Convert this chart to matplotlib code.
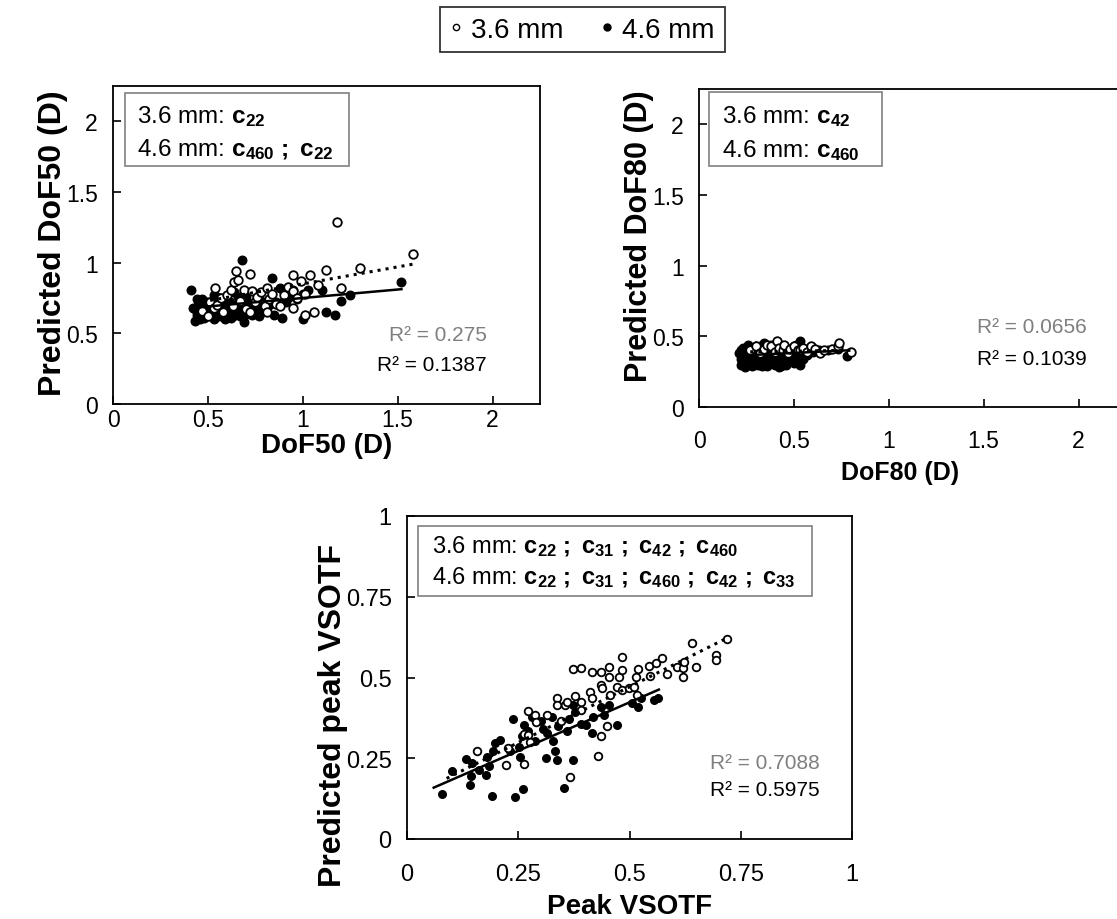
import numpy as np
import matplotlib
matplotlib.use('Agg')
from matplotlib import pyplot as plt
from matplotlib.lines import Line2D
from matplotlib.patches import Rectangle

plt.rcParams['font.family'] = ['Liberation Sans', 'DejaVu Sans']
plt.rcParams['mathtext.fontset'] = 'custom'
plt.rcParams['mathtext.rm'] = 'Liberation Sans'
plt.rcParams['mathtext.bf'] = 'Liberation Sans:bold'
plt.rcParams['mathtext.it'] = 'Liberation Sans:italic'

# ---- DoF50 panel
dof50_36_x = [0.47,0.50,0.51,0.53,0.54,0.55,0.57,0.58,0.60,0.62,0.63,0.64,0.65,0.66,0.67,0.69,0.70,0.72,0.72,0.73,
              0.75,0.76,0.78,0.80,0.81,0.81,0.82,0.84,0.86,0.88,0.90,0.92,0.95,0.95,0.95,0.97,0.99,1.01,1.01,1.04,
              1.06,1.08,1.12,1.18,1.20,1.30,1.58]
dof50_36_y = [0.66,0.62,0.72,0.68,0.82,0.70,0.75,0.65,0.77,0.81,0.69,0.86,0.94,0.88,0.73,0.81,0.67,0.92,0.65,0.80,
              0.72,0.76,0.79,0.69,0.82,0.65,0.74,0.78,0.71,0.69,0.77,0.83,0.91,0.68,0.80,0.75,0.87,0.63,0.78,0.91,
              0.65,0.84,0.95,1.29,0.82,0.96,1.06]
dof50_46_x = [0.41,0.43,0.43,0.44,0.45,0.46,0.47,0.48,0.48,0.49,0.50,0.51,0.52,0.53,0.54,0.55,0.55,0.56,0.57,0.58,
              0.59,0.60,0.60,0.61,0.62,0.63,0.64,0.65,0.66,0.67,0.68,0.68,0.69,0.70,0.71,0.72,0.73,0.74,0.76,0.78,
              0.80,0.82,0.84,0.85,0.86,0.88,0.89,0.90,0.91,0.93,0.95,0.97,1.00,1.00,1.03,1.10,1.12,1.17,1.20,1.25,
              1.52,0.42,0.44,0.46,0.47,0.49,0.50,0.52,0.53,0.56,0.58,0.59,0.61,0.62,0.64,0.66,0.67,0.70,0.75,0.77,
              0.79]
dof50_46_y = [0.81,0.59,0.67,0.63,0.70,0.65,0.74,0.61,0.68,0.72,0.63,0.69,0.66,0.60,0.71,0.66,0.76,0.62,0.75,0.68,
              0.60,0.70,0.65,0.73,0.70,0.62,0.79,0.67,0.64,0.72,1.02,0.66,0.58,0.75,0.69,0.68,0.63,0.71,0.66,0.73,
              0.66,0.70,0.89,0.63,0.72,0.82,0.61,0.79,0.72,0.76,0.81,0.74,0.60,0.78,0.81,0.81,0.65,0.63,0.73,0.77,
              0.86,0.68,0.74,0.60,0.66,0.62,0.72,0.64,0.77,0.70,0.64,0.73,0.67,0.61,0.70,0.76,0.62,0.64,0.69,0.62,
              0.70]

# ---- DoF80 panel
dof80_36_x = [0.27,0.30,0.32,0.34,0.36,0.38,0.40,0.41,0.42,0.44,0.45,0.47,0.48,0.50,0.52,0.53,0.55,0.57,0.59,0.61,
              0.64,0.66,0.70,0.73,0.74,0.80]
dof80_36_y = [0.40,0.43,0.38,0.41,0.44,0.43,0.39,0.47,0.42,0.40,0.44,0.38,0.41,0.43,0.40,0.40,0.42,0.39,0.43,0.41,
              0.38,0.40,0.41,0.43,0.45,0.39]
dof80_46_x = [0.21,0.22,0.22,0.23,0.24,0.25,0.25,0.26,0.27,0.28,0.28,0.29,0.30,0.30,0.31,0.32,0.32,0.33,0.34,0.34,
              0.35,0.36,0.36,0.37,0.38,0.39,0.40,0.41,0.42,0.43,0.44,0.45,0.47,0.49,0.50,0.51,0.52,0.53,0.53,0.55,
              0.57,0.60,0.63,0.68,0.73,0.78,0.22,0.23,0.24,0.26,0.27,0.28,0.29,0.30,0.31,0.33,0.35,0.37,0.38,0.40,
              0.42,0.44,0.46,0.48,0.50,0.52]
dof80_46_y = [0.38,0.40,0.34,0.31,0.36,0.30,0.42,0.35,0.32,0.38,0.29,0.41,0.34,0.37,0.30,0.43,0.33,0.36,0.45,0.31,
              0.39,0.34,0.29,0.41,0.33,0.37,0.30,0.42,0.35,0.29,0.38,0.33,0.40,0.36,0.31,0.44,0.35,0.47,0.30,0.34,
              0.37,0.39,0.40,0.40,0.41,0.36,0.30,0.42,0.28,0.44,0.39,0.34,0.30,0.43,0.39,0.29,0.42,0.31,0.44,0.36,
              0.28,0.42,0.30,0.34,0.39,0.44]

# ---- Peak VSOTF panel
vs_36_x = [0.157,0.223,0.227,0.262,0.262,0.273,0.273,0.277,0.288,0.29,0.315,0.337,0.337,0.345,0.356,0.360,0.367,0.373,0.378,0.39,
           0.39,0.39,0.412,0.416,0.416,0.43,0.435,0.435,0.435,0.438,0.45,0.453,0.455,0.457,0.471,0.476,0.484,0.484,0.484,0.498,
           0.509,0.514,0.516,0.518,0.543,0.547,0.559,0.574,0.585,0.607,0.621,0.621,0.622,0.641,0.649,0.694,0.694,0.72]
vs_36_y = [0.272,0.229,0.281,0.324,0.231,0.322,0.396,0.299,0.383,0.361,0.384,0.435,0.414,0.365,0.414,0.425,0.191,0.525,0.444,0.528,
           0.425,0.399,0.456,0.518,0.435,0.258,0.518,0.476,0.318,0.466,0.349,0.534,0.503,0.445,0.472,0.503,0.562,0.522,0.461,0.466,
           0.472,0.503,0.445,0.525,0.537,0.506,0.546,0.559,0.512,0.534,0.528,0.503,0.549,0.608,0.534,0.569,0.553,0.618]
vs_46_x = [0.078,0.10,0.133,0.142,0.143,0.146,0.162,0.178,0.18,0.185,0.19,0.193,0.198,0.21,0.232,0.239,0.243,0.251,0.255,0.258,
           0.261,0.262,0.273,0.281,0.288,0.30,0.306,0.312,0.315,0.326,0.329,0.333,0.336,0.340,0.352,0.360,0.363,0.373,0.374,0.378,
           0.39,0.402,0.416,0.419,0.435,0.442,0.453,0.472,0.506,0.52,0.525,0.554,0.565]
vs_46_y = [0.139,0.21,0.248,0.167,0.194,0.234,0.214,0.198,0.253,0.225,0.132,0.272,0.296,0.306,0.271,0.370,0.129,0.286,0.255,0.318,
           0.155,0.353,0.333,0.379,0.303,0.364,0.342,0.250,0.327,0.379,0.302,0.271,0.245,0.349,0.157,0.333,0.371,0.245,0.414,0.394,
           0.357,0.353,0.327,0.379,0.410,0.384,0.414,0.352,0.420,0.410,0.435,0.430,0.435]

# linear trend lines (intercept, slope, x from, x to) and R2
trend_dof50 = [(0.61, 0.24, 0.47, 1.58), (0.63, 0.12, 0.41, 1.52)]
trend_dof80 = [(0.385, 0.02, 0.27, 0.80), (0.35, 0.065, 0.21, 0.78)]
trend_vs = [(0.126, 0.69, 0.089, 0.72), (0.123, 0.60, 0.06, 0.566)]
r2_dof50 = ['0.275', '0.1387']
r2_dof80 = ['0.0656', '0.1039']
r2_vs = ['0.7088', '0.5975']

box_dof50 = [r'3.6 mm: $\mathbf{c_{22}}$', r'4.6 mm: $\mathbf{c_{460}\ ;\ c_{22}}$']
box_dof80 = [r'3.6 mm: $\mathbf{c_{42}}$', r'4.6 mm: $\mathbf{c_{460}}$']
box_vs = [r'3.6 mm: $\mathbf{c_{22}\ ;\ c_{31}\ ;\ c_{42}\ ;\ c_{460}}$',
          r'4.6 mm: $\mathbf{c_{22}\ ;\ c_{31}\ ;\ c_{460}\ ;\ c_{42}\ ;\ c_{33}}$']

W, H = 1117, 920
fig = plt.figure(figsize=(W/100, H/100), dpi=100)


def px_axes(l, t, r, b):
    return fig.add_axes([l/W, 1 - b/H, (r - l)/W, (b - t)/H])


def panel(ax, x36, y36, x46, y46, trends, r2, box, boxrect, textx, liney, r2x, r2y, ms, xpad, boxfs):
    ax.scatter(x46, y46, s=ms, c='black', edgecolors='black', linewidths=1, zorder=3)
    ax.scatter(x36, y36, s=ms, c='white', edgecolors='black', linewidths=1.3, zorder=4)
    for (a, b, x0, x1), st, lw in zip(trends, [':', '-'], [2.2, 1.8]):
        xx = np.array([x0, x1])
        ax.plot(xx, a + b*xx, color='black', linestyle=st, linewidth=lw, zorder=5)
    for s in ax.spines.values():
        s.set_linewidth(1.3)
    ax.tick_params(direction='in', length=6, width=1.2, labelsize=16.5)
    ax.tick_params(axis='x', pad=xpad)
    ax.tick_params(axis='y', pad=11)
    x0, y0, x1, y1 = boxrect
    ax.add_patch(Rectangle((x0, y0), x1 - x0, y1 - y0, transform=ax.transAxes,
                           fc='white', ec='#808080', lw=1.2, zorder=6))
    for t, yy in zip(box, liney):
        ax.text(textx, yy, t, transform=ax.transAxes, fontsize=boxfs, va='center', ha='left', zorder=7)
    ax.text(r2x, r2y[0], 'R² = ' + r2[0], transform=ax.transAxes, fontsize=15, color='#7f7f7f', ha='right', va='center')
    ax.text(r2x, r2y[1], 'R² = ' + r2[1], transform=ax.transAxes, fontsize=15, color='black', ha='right', va='center')


ax1 = px_axes(113, 87, 540, 405)
panel(ax1, dof50_36_x, dof50_36_y, dof50_46_x, dof50_46_y, trend_dof50, r2_dof50, box_dof50,
      (0.028, 0.748, 0.553, 0.978), 0.056, [0.906, 0.802], 0.876, [0.22, 0.123], 38, 3, 17.5)
ax1.set_xlim(0, 2.25)
ax1.set_ylim(0, 2.25)
ax1.set_xticks([0, 0.5, 1, 1.5, 2])
ax1.set_yticks([0, 0.5, 1, 1.5, 2])
ax1.set_xticklabels(['0', '0.5', '1', '1.5', '2'])
ax1.set_yticklabels(['0', '0.5', '1', '1.5', '2'])
ax1.set_xlabel('DoF50 (D)', fontsize=20, fontweight='bold')
ax1.set_ylabel('Predicted DoF50 (D)', fontsize=23, fontweight='bold')
ax1.xaxis.set_label_coords(0.5, -0.087)
ax1.yaxis.set_label_coords(-0.105, 0.51)

ax2 = px_axes(699, 90, 1126, 408)
panel(ax2, dof80_36_x, dof80_36_y, dof80_46_x, dof80_46_y, trend_dof80, r2_dof80, box_dof80,
      (0.023, 0.758, 0.429, 0.99), 0.054, [0.915, 0.811], 0.909, [0.252, 0.151], 38, 16, 17.5)
ax2.set_xlim(0, 2.25)
ax2.set_ylim(0, 2.25)
ax2.set_xticks([0, 0.5, 1, 1.5, 2])
ax2.set_yticks([0, 0.5, 1, 1.5, 2])
ax2.set_xticklabels(['0', '0.5', '1', '1.5', '2'])
ax2.set_yticklabels(['0', '0.5', '1', '1.5', '2'])
ax2.set_xlabel('DoF80 (D)', fontsize=18, fontweight='bold')
ax2.set_ylabel('Predicted DoF80 (D)', fontsize=22, fontweight='bold')
ax2.xaxis.set_label_coords(0.47, -0.167)
ax2.yaxis.set_label_coords(-0.105, 0.54)

ax3 = px_axes(407, 517, 852, 840)
panel(ax3, vs_36_x, vs_36_y, vs_46_x, vs_46_y, trend_vs, r2_vs, box_vs,
      (0.025, 0.752, 0.91, 0.969), 0.056, [0.907, 0.811], 0.928, [0.238, 0.152], 30, 17, 17)
ax3.set_xlim(0, 1)
ax3.set_ylim(0, 1)
ax3.set_xticks([0, 0.25, 0.5, 0.75, 1])
ax3.set_yticks([0, 0.25, 0.5, 0.75, 1])
ax3.set_xticklabels(['0', '0.25', '0.5', '0.75', '1'])
ax3.set_yticklabels(['0', '0.25', '0.5', '0.75', '1'])
ax3.tick_params(labelsize=17)
ax3.set_xlabel('Peak VSOTF', fontsize=20, fontweight='bold')
ax3.set_ylabel('Predicted peak VSOTF', fontsize=23, fontweight='bold')
ax3.xaxis.set_label_coords(0.5, -0.168)
ax3.yaxis.set_label_coords(-0.132, 0.384)

handles = [Line2D([], [], marker='o', linestyle='none', markersize=4.5, mfc='white', mec='black', mew=1),
           Line2D([], [], marker='o', linestyle='none', markersize=5, mfc='black', mec='black')]
leg = fig.legend(handles, ['3.6 mm', '4.6 mm'], loc='upper center', bbox_to_anchor=(582/W, 1 - 8/H),
                 ncol=2, fontsize=20, frameon=True, fancybox=False, edgecolor='black', borderaxespad=0,
                 handlelength=0.5, handletextpad=0.3, columnspacing=1.3, borderpad=0.35)
leg.get_frame().set_linewidth(1.3)

fig.savefig('out.png', dpi=100)
